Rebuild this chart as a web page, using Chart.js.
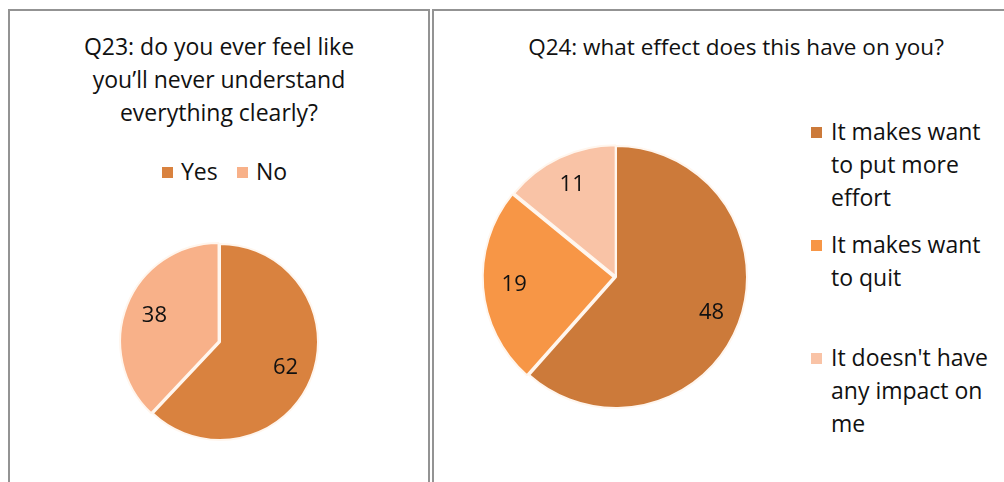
<!DOCTYPE html>
<html>
<head>
<meta charset="utf-8">
<script src="https://cdn.jsdelivr.net/npm/chart.js@4.4.1/dist/chart.umd.min.js"></script>
<style>
  html, body { margin: 0; padding: 0; background: #fff; }
  body { width: 1004px; height: 482px; position: relative; overflow: hidden;
         font-family: "Open Sans", Lato, sans-serif; color: #111; }
  .frame { position: absolute; border: 2px solid #939393; border-bottom: none; box-sizing: border-box; }
  .title { position: absolute; text-align: center; font-size: 23px; line-height: 33px; white-space: nowrap; }
  .legend-item { position: absolute; font-size: 23px; line-height: 33px; white-space: nowrap; }
  .sw { position: absolute; width: 11px; height: 11px; }
  .cv { position: absolute; }
</style>
</head>
<body>
<div class="frame" style="left:8px; top:9px; width:422px; height:480px;"></div>
<div class="frame" style="left:432px; top:9px; width:600px; height:480px;"></div>

<div class="title" id="t23" style="left:8px; width:422px; top:30px;"></div>
<div class="title" id="t24" style="left:436px; width:600px; top:30px; font-size:22.5px;"></div>

<div id="lg23"></div>
<div id="lg24"></div>

<div class="cv" style="left:100px; top:222px; width:240px; height:240px;"><canvas id="c23"></canvas></div>
<div class="cv" style="left:466px; top:127px; width:300px; height:300px;"><canvas id="c24"></canvas></div>

<script>
// Q23 survey answers
const q23Title = ['Q23: do you ever feel like', 'you\u2019ll never understand', 'everything clearly?'];
const q23Categories = ['Yes', 'No'];
const q23Values = [62, 38];
const q23Colors = ['#D9823F', '#F8B189'];

// Q24 survey answers
const q24Title = ['Q24: what effect does this have on you?'];
const q24Categories = [
  ['It makes want', 'to put more', 'effort'],
  ['It makes want', 'to quit'],
  ["It doesn't have", 'any impact on', 'me']
];
const q24Values = [48, 19, 11];
const q24Colors = ['#CC7A3A', '#F79646', '#F9C3A6'];

document.getElementById('t23').innerHTML = q23Title.join('<br>');
document.getElementById('t24').innerHTML = q24Title.join('<br>');

// Value labels placed along each slice's mid-angle
const sliceLabels = {
  id: 'sliceLabels',
  afterDatasetsDraw(chart, args, opts) {
    const ctx = chart.ctx;
    const meta = chart.getDatasetMeta(0);
    const data = chart.data.datasets[0].data;
    ctx.save();
    ctx.font = opts.font;
    ctx.fillStyle = '#111';
    ctx.textAlign = 'center';
    ctx.textBaseline = 'middle';
    meta.data.forEach((arc, i) => {
      const p = arc.getProps(['x', 'y', 'startAngle', 'endAngle', 'outerRadius'], true);
      const mid = (p.startAngle + p.endAngle) / 2;
      const r = p.outerRadius * opts.ratio;
      ctx.fillText(String(data[i]), p.x + Math.cos(mid) * r, p.y + Math.sin(mid) * r);
    });
    ctx.restore();
  }
};

function makePie(id, labels, values, colors, offsets, radius, ratio) {
  return new Chart(document.getElementById(id), {
    type: 'pie',
    data: {
      labels: labels,
      datasets: [{
        data: values,
        backgroundColor: colors,
        borderColor: '#FFF6EE',
        borderWidth: 2,
        offset: offsets
      }]
    },
    options: {
      responsive: true,
      maintainAspectRatio: false,
      animation: false,
      radius: radius,
      layout: { padding: 0 },
      plugins: {
        legend: { display: false },
        tooltip: { enabled: false },
        sliceLabels: { font: '22px "Open Sans", Lato, sans-serif', ratio: ratio }
      }
    },
    plugins: [sliceLabels]
  });
}

makePie('c23', q23Categories, q23Values, q23Colors, [0, 6], 98, 0.72);
makePie('c24', q24Categories, q24Values, q24Colors, [0, 9, 3], 131, 0.78);

// Legend for Q23: horizontal row
(function () {
  const host = document.getElementById('lg23');
  const starts = [162, 237];
  q23Categories.forEach((name, i) => {
    const sw = document.createElement('div');
    sw.className = 'sw';
    sw.style.left = starts[i] + 'px';
    sw.style.top = '167px';
    sw.style.background = q23Colors[i];
    host.appendChild(sw);
    const tx = document.createElement('div');
    tx.className = 'legend-item';
    tx.style.left = (starts[i] + 19) + 'px';
    tx.style.top = '155px';
    tx.textContent = name;
    host.appendChild(tx);
  });
})();

// Legend for Q24: vertical column at the right
(function () {
  const host = document.getElementById('lg24');
  q24Categories.forEach((lines, i) => {
    const top = 115 + i * 113;
    const sw = document.createElement('div');
    sw.className = 'sw';
    sw.style.left = '811px';
    sw.style.top = (top + 12) + 'px';
    sw.style.background = q24Colors[i];
    host.appendChild(sw);
    const tx = document.createElement('div');
    tx.className = 'legend-item';
    tx.style.left = '831px';
    tx.style.top = top + 'px';
    tx.innerHTML = lines.join('<br>');
    host.appendChild(tx);
  });
})();
</script>
</body>
</html>
